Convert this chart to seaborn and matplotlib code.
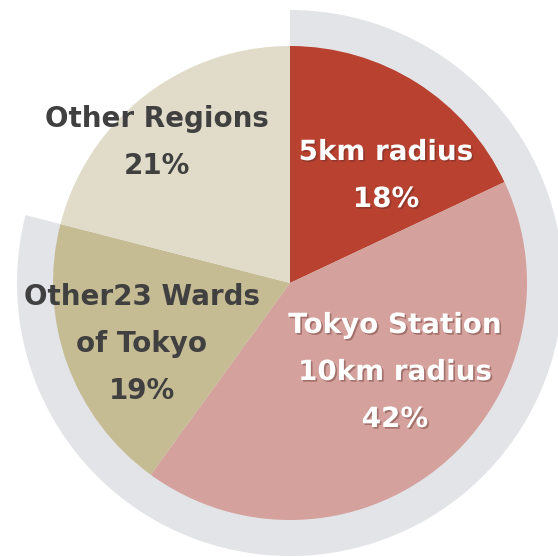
import matplotlib
matplotlib.use("Agg")
import matplotlib.pyplot as plt
import matplotlib.patheffects as pe
import seaborn as sns

# share of locations
labels = ["5km radius", "Tokyo Station\n10km radius", "Other23 Wards\nof Tokyo", "Other Regions"]
shares = [18, 42, 19, 21]
colors = ["#B94130", "#D4A19C", "#C6BC94", "#E1DCC9"]
text_colors = ["white", "white", "#404040", "#404040"]

# outer ring: Tokyo area vs rest
ring_values = [sum(shares[:3]), shares[3]]

sns.set_theme(style="white")
plt.rcParams["font.family"] = ["DejaVu Sans"]

W, H = 558, 557
fig = plt.figure(figsize=(W / 100, H / 100), dpi=100)
ax = fig.add_axes([0, 0, 1, 1])

cx, cy = 290, H - 283

ax.pie(ring_values, colors=["#E3E4E8", "none"], radius=273, center=(cx, cy),
       startangle=90, counterclock=False, frame=True,
       wedgeprops=dict(linewidth=0))
ax.pie(shares, colors=colors, radius=237, center=(cx, cy),
       startangle=90, counterclock=False, frame=True,
       wedgeprops=dict(linewidth=0))
ax.set_xlim(0, W)
ax.set_ylim(0, H)
ax.set_aspect("equal")
ax.axis("off")

shadow = [pe.withSimplePatchShadow(offset=(1.2, -1.2), shadow_rgbFace="#5a2a22", alpha=0.4)]

# label anchor positions (image px: x, y of first line)
anchors = [(386, 152), (395, 325), (142, 297), (157, 119)]
gap = 47
for lab, pct, col, (x, y) in zip(labels, shares, text_colors, anchors):
    lines = lab.split("\n") + [f"{pct}%"]
    for i, line in enumerate(lines):
        ax.text(x, H - (y + i * gap), line, ha="center", va="center",
                fontsize=20, fontweight="bold", color=col,
                path_effects=shadow if col == "white" else None)

fig.savefig("out.png", dpi=100)
